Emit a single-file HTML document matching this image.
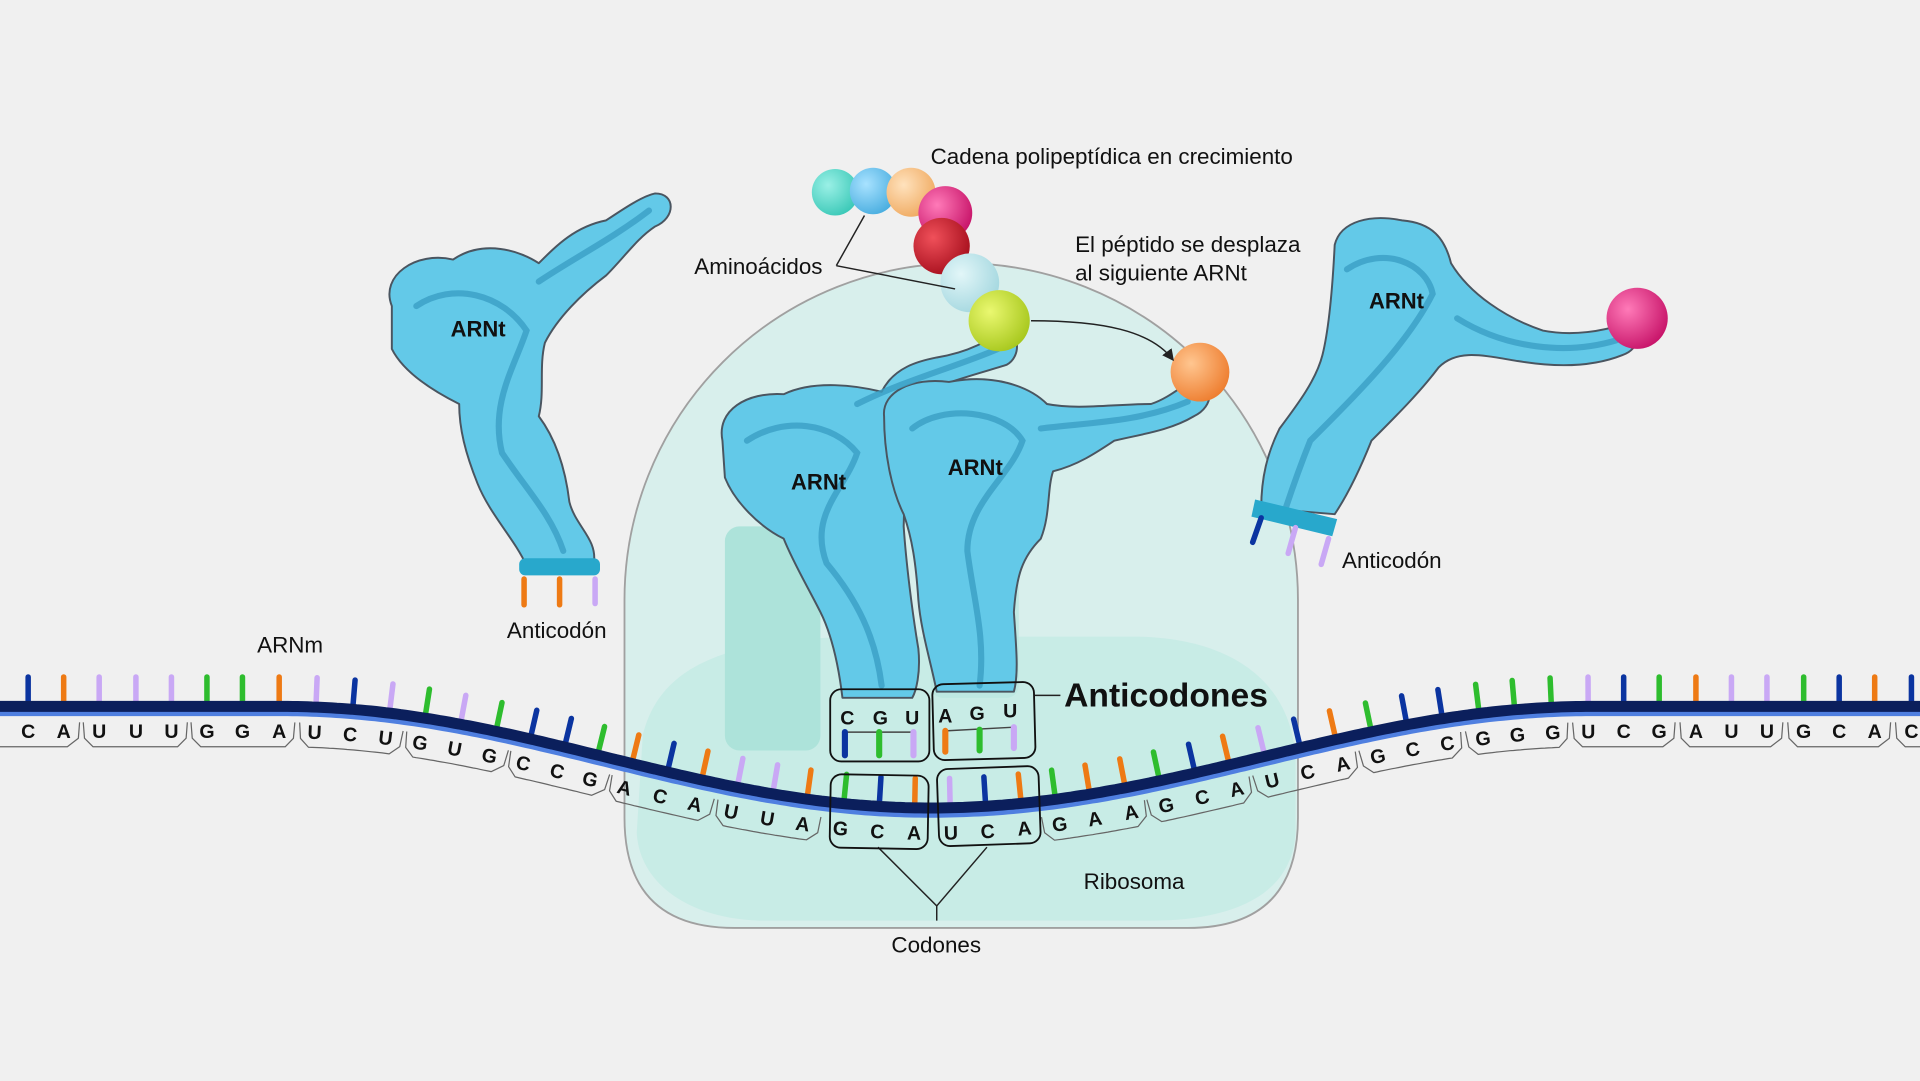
<!DOCTYPE html>
<html><head><meta charset="utf-8"><style>
html,body{margin:0;padding:0;background:#f0f0f0;}
svg{display:block;}
text{font-family:"Liberation Sans",Arial,sans-serif;}
</style></head><body>
<svg id="s" width="1920" height="1081" viewBox="0 0 1568 883" preserveAspectRatio="none" xmlns="http://www.w3.org/2000/svg">
<defs>
<radialGradient id="g1" cx="35%" cy="35%" r="70%"><stop offset="0" stop-color="#9af0e6"/><stop offset="1" stop-color="#3cc9b8"/></radialGradient>
<radialGradient id="g2" cx="35%" cy="35%" r="70%"><stop offset="0" stop-color="#a8e2ff"/><stop offset="1" stop-color="#4aaee0"/></radialGradient>
<radialGradient id="g3" cx="35%" cy="35%" r="70%"><stop offset="0" stop-color="#ffe2bd"/><stop offset="1" stop-color="#f0ab62"/></radialGradient>
<radialGradient id="g4" cx="35%" cy="35%" r="70%"><stop offset="0" stop-color="#ff7ab8"/><stop offset="1" stop-color="#c8156a"/></radialGradient>
<radialGradient id="g5" cx="35%" cy="35%" r="70%"><stop offset="0" stop-color="#f0505a"/><stop offset="1" stop-color="#a8101e"/></radialGradient>
<radialGradient id="g6" cx="35%" cy="35%" r="70%"><stop offset="0" stop-color="#e2f6f8"/><stop offset="1" stop-color="#a5d8e0"/></radialGradient>
<radialGradient id="g7" cx="35%" cy="35%" r="70%"><stop offset="0" stop-color="#eaf870"/><stop offset="1" stop-color="#a8c81e"/></radialGradient>
<radialGradient id="g8" cx="35%" cy="35%" r="70%"><stop offset="0" stop-color="#ffc690"/><stop offset="1" stop-color="#ee7e30"/></radialGradient>
<marker id="ar" markerWidth="8" markerHeight="8" refX="7" refY="4" orient="auto"><path d="M0,0 L8,4 L0,8 Z" fill="#222"/></marker>
</defs>
<rect width="1568" height="883" fill="#f0f0f0"/>
<!-- ribosome -->
<path d="M510,560 L510,490 A275,275 0 0 1 1060,490 L1060,668 Q1060,758 970,758 L600,758 Q510,758 510,668 Z" fill="#d8efec" stroke="#a0a0a0" stroke-width="1.5"/>
<path d="M525,600 C540,540 600,522 700,520 L930,520 C1010,522 1055,560 1058,620 L1058,680 C1055,735 1000,752 940,752 L620,752 C560,750 522,720 520,680 Z" fill="#c6ebe5" opacity="0.9"/>
<rect x="592" y="430" width="78" height="183" rx="12" fill="#ade3da"/>
<rect x="760" y="430" width="72" height="140" rx="10" fill="#b8e7df" opacity="0.7"/>
<!-- tRNAs -->
<g fill="#63c9e8" stroke="#4a5560" stroke-width="1.6" stroke-linejoin="round">
<path d="M320,250 C310,225 340,205 370,212 C395,195 425,205 440,215 C455,200 470,185 495,180 C510,170 525,160 535,158 C552,158 552,178 535,185 C520,195 510,210 495,225 C475,240 455,260 445,280 C440,300 445,320 440,340 C455,360 462,385 465,410 C470,430 488,440 485,460 L430,462 C420,440 400,420 390,395 C380,370 375,350 375,330 C355,320 330,305 320,285 Z"/>
<path d="M590,360 C585,335 610,320 640,322 C665,310 700,315 720,320 C730,300 750,295 765,292 C790,288 810,278 818,268 C834,270 834,292 822,298 C800,305 780,310 760,318 C745,330 738,345 740,360 L738,430 C740,460 745,500 750,530 C752,550 748,565 745,570 L688,570 C685,545 680,520 670,500 C660,480 648,460 640,440 C620,430 600,410 592,390 Z"/>
<path d="M722,340 C720,320 745,308 775,312 C810,305 840,315 855,330 C880,335 910,330 940,330 C955,325 965,315 975,310 C992,312 992,332 975,340 C955,352 930,355 910,360 C895,370 880,380 860,385 C855,400 858,420 850,440 C835,455 830,470 828,500 C830,530 832,550 828,565 L765,565 C760,540 752,515 750,490 C748,460 745,440 738,420 C728,400 722,370 722,340 Z"/>
<path d="M1090,200 C1095,180 1120,175 1145,180 C1170,182 1180,195 1185,215 C1200,240 1230,260 1260,270 C1285,275 1310,270 1325,265 C1340,270 1340,285 1325,290 C1300,300 1270,300 1240,295 C1210,290 1190,285 1175,300 C1160,320 1140,340 1120,360 C1110,385 1100,405 1090,420 L1030,415 C1030,390 1035,370 1045,350 C1060,330 1075,310 1080,290 C1085,270 1088,240 1090,200 Z"/>
</g>
<g fill="none" stroke="#3a9fc4" stroke-width="5" stroke-linecap="round" opacity="0.8">
<path d="M340,250 C370,230 410,240 430,270 C420,300 400,330 410,370 C430,400 450,420 460,450 M440,230 C470,210 500,195 530,172"/>
<path d="M610,360 C640,340 680,345 700,370 C690,400 660,420 675,460 C700,490 715,520 720,560 M700,330 C740,310 780,300 815,285"/>
<path d="M745,350 C770,330 820,335 835,360 C825,390 790,410 790,450 C795,490 805,520 800,560 M850,350 C890,345 930,345 970,328"/>
<path d="M1100,220 C1130,200 1165,215 1170,240 C1150,280 1110,320 1070,360 C1060,385 1055,400 1050,415 M1190,260 C1230,285 1280,290 1320,278"/>
</g>
<!-- tRNA bases -->
<rect x="424" y="456" width="66" height="14" rx="5" fill="#28a8cc"/>
<g stroke-width="4.5" stroke-linecap="round">
<line x1="428" y1="473" x2="428" y2="494" stroke="#ee7a14"/>
<line x1="457" y1="473" x2="457" y2="494" stroke="#ee7a14"/>
<line x1="486" y1="473" x2="486" y2="493" stroke="#c9a8f5"/>
</g>
<path d="M1025,408 L1092,424 L1088,438 L1022,422 Z" fill="#28a8cc"/>
<g stroke-width="4.5" stroke-linecap="round">
<line x1="1030" y1="423" x2="1023" y2="443" stroke="#0b34a0"/>
<line x1="1058" y1="431" x2="1052" y2="452" stroke="#c9a8f5"/>
<line x1="1085" y1="440" x2="1079" y2="461" stroke="#c9a8f5"/>
</g>
<!-- beads -->
<circle cx="682" cy="157" r="19" fill="url(#g1)"/>
<circle cx="713" cy="156" r="19" fill="url(#g2)"/>
<circle cx="744" cy="157" r="20" fill="url(#g3)"/>
<circle cx="772" cy="174" r="22" fill="url(#g4)"/>
<circle cx="769" cy="201" r="23" fill="url(#g5)"/>
<circle cx="792" cy="231" r="24" fill="url(#g6)"/>
<circle cx="816" cy="262" r="25" fill="url(#g7)"/>
<circle cx="980" cy="304" r="24" fill="url(#g8)"/>
<circle cx="1337" cy="260" r="25" fill="url(#g4)"/>
<!-- annotation lines -->
<g stroke="#222" stroke-width="1.2" fill="none">
<path d="M683,217 L706,176 M683,217 L780,236"/>
<path d="M842,262 C900,262 940,270 958,294" marker-end="url(#ar)"/>
<path d="M845,568 L866,568"/>
<path d="M717,692 L765,740 L806,692 M765,740 L765,752"/>
</g>
<!-- mRNA -->
<g id="mr"></g>
<!-- anticodon boxes -->
<g fill="none" stroke="#111" stroke-width="1.5">
<rect x="678" y="563" width="81" height="59" rx="9"/>
<rect x="762" y="558" width="83" height="62" rx="9" transform="rotate(-1.5 803 589)"/>
<rect x="678" y="633" width="80" height="60" rx="9" transform="rotate(1 718 663)"/>
<rect x="766" y="627" width="83" height="63" rx="9" transform="rotate(-2 807 658)"/>
</g>
<g stroke="#444" stroke-width="1.2"><line x1="690" y1="598" x2="746" y2="598"/><line x1="772" y1="597" x2="828" y2="594"/></g>
<g stroke-width="5" stroke-linecap="round">
<line x1="690" y1="598" x2="690" y2="617" stroke="#0b34a0"/>
<line x1="718" y1="598" x2="718" y2="617" stroke="#2ebd2e"/>
<line x1="746" y1="598" x2="746" y2="617" stroke="#c9a8f5"/>
<line x1="772" y1="597" x2="772" y2="614" stroke="#ee7a14"/>
<line x1="800" y1="596" x2="800" y2="613" stroke="#2ebd2e"/>
<line x1="828" y1="594" x2="828" y2="611" stroke="#c9a8f5"/>
</g>
<g font-weight="bold" font-size="16" fill="#111" text-anchor="middle">
<text x="692" y="592">C</text><text x="719" y="592">G</text><text x="745" y="592">U</text>
<text x="772" y="590">A</text><text x="798" y="588">G</text><text x="825" y="586">U</text>
</g>
<!-- mRNA letters (positioned by script) -->
<g id="lt" font-weight="bold" font-size="16" fill="#111" text-anchor="middle">
<text>C</text><text>A</text>
<text>U</text><text>U</text><text>U</text>
<text>G</text><text>G</text><text>A</text>
<text>U</text><text>C</text><text>U</text>
<text>G</text><text>U</text><text>G</text>
<text>C</text><text>C</text><text>G</text>
<text>A</text><text>C</text><text>A</text>
<text>U</text><text>U</text><text>A</text>
<text>G</text><text>C</text><text>A</text>
<text>U</text><text>C</text><text>A</text>
<text>G</text><text>A</text><text>A</text>
<text>G</text><text>C</text><text>A</text>
<text>U</text><text>C</text><text>A</text>
<text>G</text><text>C</text><text>C</text>
<text>G</text><text>G</text><text>G</text>
<text>U</text><text>C</text><text>G</text>
<text>A</text><text>U</text><text>U</text>
<text>G</text><text>C</text><text>A</text>
<text>C</text>
</g>
<!-- labels -->
<g font-size="18.3" fill="#111">
<text x="760" y="134">Cadena polipeptídica en crecimiento</text>
<text x="567" y="224">Aminoácidos</text>
<text x="878" y="206">El péptido se desplaza</text>
<text x="878" y="229">al siguiente ARNt</text>
<text x="414" y="521">Anticodón</text>
<text x="1096" y="464">Anticodón</text>
<text x="210" y="533">ARNm</text>
<text x="885" y="726">Ribosoma</text>
<text x="728" y="778">Codones</text>
</g>
<g font-size="18" font-weight="bold" fill="#111">
<text x="368" y="275">ARNt</text>
<text x="646" y="400">ARNt</text>
<text x="774" y="388">ARNt</text>
<text x="1118" y="252">ARNt</text>
<text x="869" y="577" font-size="27.5">Anticodones</text>
</g>
</svg>
<script>
(function(){
var NS="http://www.w3.org/2000/svg";
function Y(x){
 if(x<=230) return 577;
 if(x<=760) return 577+83*(1-Math.cos(Math.PI*(x-230)/530))/2;
 if(x<=1300) return 577+83*(1+Math.cos(Math.PI*(x-760)/540))/2;
 return 577;
}
function ang(x){return Math.atan2(Y(x+1)-Y(x-1),2);}
function pt(x,off){var a=ang(x);return [x-Math.sin(a)*off, Y(x)+Math.cos(a)*off];}
var mr=document.getElementById('mr');
function el(t,at){var e=document.createElementNS(NS,t);for(var k in at)e.setAttribute(k,at[k]);mr.appendChild(e);return e;}
var d1="",d2="";
for(var x=-5;x<=1575;x+=4){var p=pt(x,0),q=pt(x,6);d1+=(d1?"L":"M")+p[0].toFixed(1)+","+p[1].toFixed(1);d2+=(d2?"L":"M")+q[0].toFixed(1)+","+q[1].toFixed(1);}
var xs=[23,52,81,111,140,169,198,228,258,288,318,347,376,405,433,461,488,516,545,573,602,631,659,689,718,747,776,805,834,862,890,919,947,976,1004,1033,1062,1091,1120,1149,1178,1208,1237,1267,1297,1326,1355,1385,1414,1443,1473,1502,1531,1561];
var C={n:"#0b34a0",o:"#ee7a14",l:"#c9a8f5",g:"#2ebd2e"};
var cs="nolllggolnlglgnngonollognolnogoognolnognngggl ngollgnon".replace(/ /g,"");
for(var i=0;i<xs.length;i++){var a=pt(xs[i],-3),b=pt(xs[i],-24);el('line',{x1:a[0],y1:a[1],x2:b[0],y2:b[1],stroke:C[cs[i]]||"#0b34a0","stroke-width":4.5,"stroke-linecap":"round"});}
el('path',{d:d2,stroke:"#4f7fe0","stroke-width":4,fill:"none"});
el('path',{d:d1,stroke:"#0b1f5c","stroke-width":9,fill:"none"});
var lt=document.getElementById('lt').children;
for(var i=0;i<lt.length&&i<xs.length;i++){var p=pt(xs[i],26);var a=ang(xs[i])*180/Math.PI;lt[i].setAttribute('x',p[0]);lt[i].setAttribute('y',p[1]);lt[i].setAttribute('transform','rotate('+a+' '+p[0]+' '+(p[1]-5)+')');}
var groups=[[-1,1]];for(var g=2;g<53;g+=3)groups.push([g,g+2]);groups.push([53,55]);
groups.forEach(function(gr){
 if(gr[0]==23||gr[0]==26)return;
 var x0=(gr[0]<0?-10:xs[gr[0]]-13),x1=(gr[1]>=xs.length?1580:xs[gr[1]]+13);
 var s=pt(x0,13);var d="M"+s[0]+","+s[1];
 var m=pt(x0+1,26);d+="L"+m[0]+","+m[1];
 for(var x=x0+8;x<=x1-8;x+=3){var p=pt(x,33);d+="L"+p[0].toFixed(1)+","+p[1].toFixed(1);}
 var e=pt(x1-1,26),f=pt(x1,13);d+="L"+e[0]+","+e[1]+"L"+f[0]+","+f[1];
 el('path',{d:d,stroke:"#666","stroke-width":1,fill:"none","stroke-linejoin":"round"});
});
})();
</script>
</body></html>
